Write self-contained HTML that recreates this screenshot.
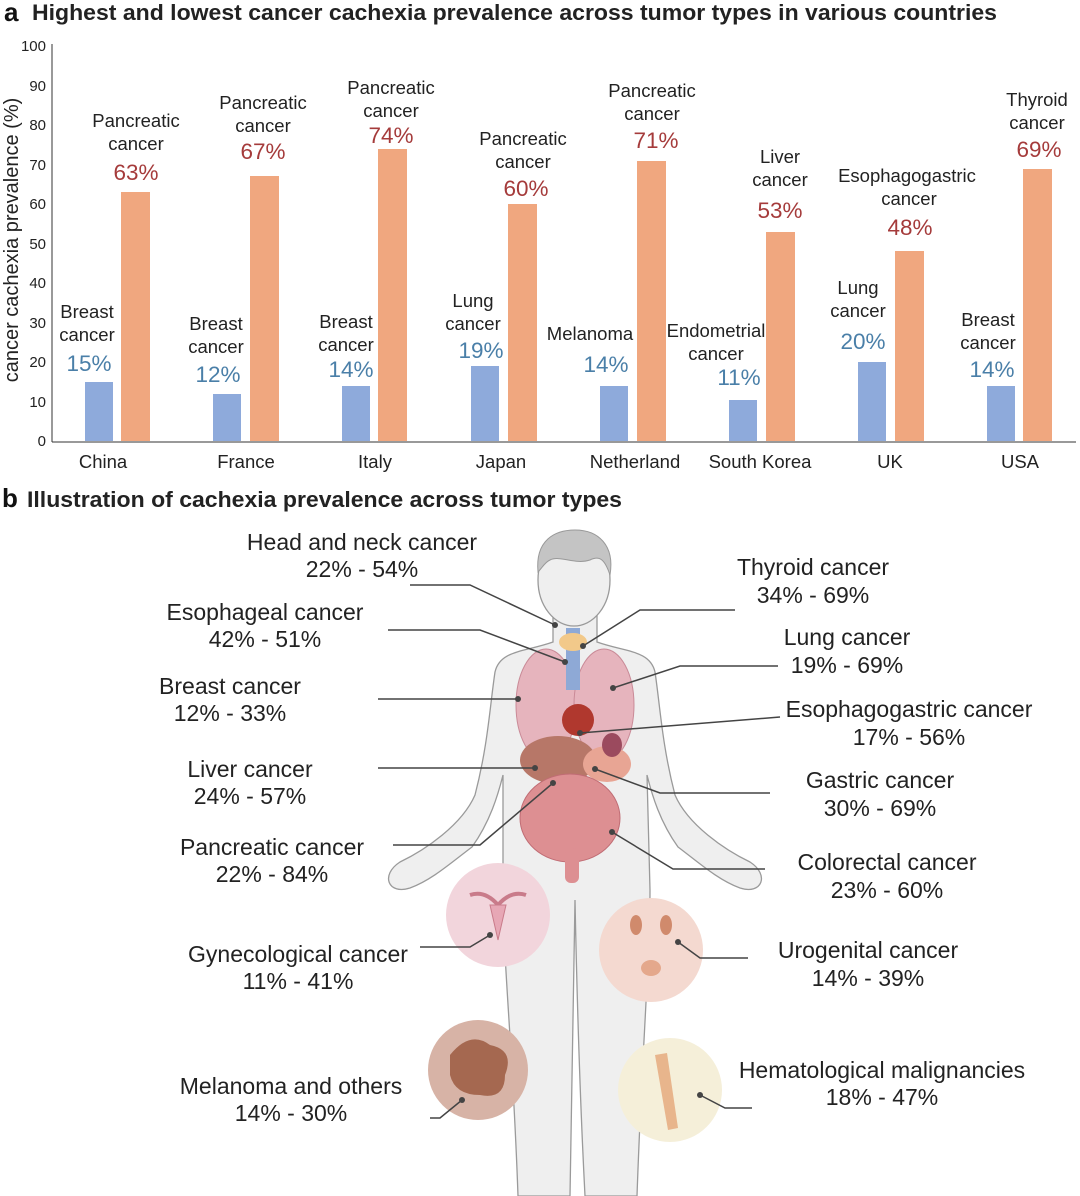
<!DOCTYPE html>
<html><head><meta charset="utf-8"><style>
body{margin:0;background:#fff}
svg{display:block;font-family:"Liberation Sans",sans-serif}
</style></head><body>
<svg width="1080" height="1196" viewBox="0 0 1080 1196">
<rect width="1080" height="1196" fill="#fff"/>
<text x="4" y="21" font-size="26" font-weight="bold" fill="#111">a</text>
<text x="32" y="20" font-size="22.5" font-weight="bold" fill="#222" textLength="965" lengthAdjust="spacingAndGlyphs">Highest and lowest cancer cachexia prevalence across tumor types in various countries</text>
<g stroke="#333" stroke-width="1">
<line x1="52" y1="44" x2="52" y2="442"/>
<line x1="52" y1="442" x2="1076" y2="442"/>
</g>
<g font-size="15" fill="#222" text-anchor="end">
<text x="46" y="446">0</text><text x="46" y="407">10</text><text x="46" y="367">20</text><text x="46" y="328">30</text><text x="46" y="288">40</text><text x="46" y="249">50</text><text x="46" y="209">60</text><text x="46" y="170">70</text><text x="46" y="130">80</text><text x="46" y="91">90</text><text x="46" y="51">100</text>
</g>
<text transform="translate(18,240) rotate(-90)" font-size="20" fill="#222" text-anchor="middle">cancer cachexia prevalence (%)</text>
<g fill="#8eaadb">
<rect x="85" y="382" width="28" height="59"/>
<rect x="213" y="394" width="28" height="47"/>
<rect x="342" y="386" width="28" height="55"/>
<rect x="471" y="366" width="28" height="75"/>
<rect x="600" y="386" width="28" height="55"/>
<rect x="729" y="400" width="28" height="41"/>
<rect x="858" y="362" width="28" height="79"/>
<rect x="987" y="386" width="28" height="55"/>
</g>
<g fill="#f0a77f">
<rect x="121" y="192" width="29" height="249"/>
<rect x="250" y="176" width="29" height="265"/>
<rect x="378" y="149" width="29" height="292"/>
<rect x="508" y="204" width="29" height="237"/>
<rect x="637" y="161" width="29" height="280"/>
<rect x="766" y="232" width="29" height="209"/>
<rect x="895" y="251" width="29" height="190"/>
<rect x="1023" y="169" width="29" height="272"/>
</g>
<g font-size="18.5" fill="#222" text-anchor="middle">
<text x="103" y="468">China</text><text x="246" y="468">France</text><text x="375" y="468">Italy</text><text x="501" y="468">Japan</text><text x="635" y="468">Netherland</text><text x="760" y="468">South Korea</text><text x="890" y="468">UK</text><text x="1020" y="468">USA</text>
</g>
<g font-size="18.5" fill="#222" text-anchor="middle">
<text x="87" y="318">Breast</text><text x="87" y="341">cancer</text>
<text x="136" y="127">Pancreatic</text><text x="136" y="150">cancer</text>
<text x="216" y="330">Breast</text><text x="216" y="353">cancer</text>
<text x="263" y="109">Pancreatic</text><text x="263" y="132">cancer</text>
<text x="346" y="328">Breast</text><text x="346" y="351">cancer</text>
<text x="391" y="94">Pancreatic</text><text x="391" y="117">cancer</text>
<text x="473" y="307">Lung</text><text x="473" y="330">cancer</text>
<text x="523" y="145">Pancreatic</text><text x="523" y="168">cancer</text>
<text x="590" y="340">Melanoma</text>
<text x="652" y="97">Pancreatic</text><text x="652" y="120">cancer</text>
<text x="716" y="337">Endometrial</text><text x="716" y="360">cancer</text>
<text x="780" y="163">Liver</text><text x="780" y="186">cancer</text>
<text x="858" y="294">Lung</text><text x="858" y="317">cancer</text>
<text x="907" y="182">Esophagogastric</text><text x="909" y="205">cancer</text>
<text x="988" y="326">Breast</text><text x="988" y="349">cancer</text>
<text x="1037" y="106">Thyroid</text><text x="1037" y="129">cancer</text>
</g>
<g font-size="22.5" fill="#4a7fa8" text-anchor="middle">
<text x="89" y="371">15%</text><text x="218" y="382">12%</text><text x="351" y="377">14%</text><text x="481" y="358">19%</text><text x="606" y="372">14%</text><text x="739" y="385">11%</text><text x="863" y="349">20%</text><text x="992" y="377">14%</text>
</g>
<g font-size="22.5" fill="#a53b3b" text-anchor="middle">
<text x="136" y="180">63%</text><text x="263" y="159">67%</text><text x="391" y="143">74%</text><text x="526" y="196">60%</text><text x="656" y="148">71%</text><text x="780" y="218">53%</text><text x="910" y="235">48%</text><text x="1039" y="157">69%</text>
</g>

<text x="2" y="507" font-size="26" font-weight="bold" fill="#111">b</text>
<text x="27" y="507" font-size="22.5" font-weight="bold" fill="#222" textLength="595" lengthAdjust="spacingAndGlyphs">Illustration of cachexia prevalence across tumor types</text>

<g fill="#efefef" stroke="#9a9a9a" stroke-width="1.3">
<path d="M553,615 L553,642 C525,652 500,650 495,672 C490,705 488,745 475,795 C462,825 425,850 400,862 C380,875 388,895 410,888 C432,880 452,862 472,847 C490,822 498,795 503,775 L503,890 C503,960 513,1050 518,1196 L570,1196 C572,1100 573,1000 575,900 C577,1000 580,1100 585,1196 L637,1196 C642,1050 650,960 650,890 L647,775 C652,795 660,822 678,847 C698,862 718,880 740,888 C762,895 770,875 750,862 C725,850 688,825 675,795 C662,745 660,705 655,672 C650,650 625,652 597,642 L597,615 Z"/>
<ellipse cx="574" cy="580" rx="36" ry="46"/>
</g>
<path d="M538,572 C535,540 555,530 575,530 C598,530 615,545 610,575 C605,560 600,555 590,560 C575,565 560,555 550,560 C545,562 542,568 538,572 Z" fill="#c4c4c4" stroke="#999" stroke-width="1"/>
<ellipse cx="546" cy="705" rx="30" ry="56" fill="#e6b4bd" stroke="#c98a97"/>
<ellipse cx="604" cy="705" rx="30" ry="56" fill="#e6b4bd" stroke="#c98a97"/>
<rect x="566" y="628" width="14" height="62" fill="#8ea9d6"/>
<ellipse cx="573" cy="642" rx="14" ry="9" fill="#f2c98a"/>
<ellipse cx="578" cy="720" rx="16" ry="16" fill="#b0382e"/>
<ellipse cx="558" cy="760" rx="38" ry="24" fill="#b77768"/>
<ellipse cx="607" cy="764" rx="24" ry="18" fill="#e8a594"/>
<ellipse cx="612" cy="745" rx="10" ry="12" fill="#9b4a5e"/>
<ellipse cx="570" cy="818" rx="50" ry="44" fill="#dd8f92" stroke="#c06c74"/>
<rect x="565" y="848" width="14" height="35" rx="6" fill="#dd8f92"/>
<circle cx="498" cy="915" r="52" fill="#f2d5dc"/>
<path d="M470,895 Q485,890 498,905 Q511,890 526,895" stroke="#c97b8a" stroke-width="4" fill="none"/>
<path d="M490,905 L506,905 L498,940 Z" fill="#e7a7b5" stroke="#c97b8a"/>
<circle cx="651" cy="950" r="52" fill="#f4d9d0"/>
<ellipse cx="636" cy="925" rx="6" ry="10" fill="#d08a6c"/><ellipse cx="666" cy="925" rx="6" ry="10" fill="#d08a6c"/>
<ellipse cx="651" cy="968" rx="10" ry="8" fill="#e4a88c"/>
<circle cx="478" cy="1070" r="50" fill="#d7b3a6"/>
<path d="M450,1055 Q470,1030 490,1045 Q515,1050 505,1075 Q505,1100 480,1095 Q455,1095 450,1075 Z" fill="#a56850"/>
<circle cx="670" cy="1090" r="52" fill="#f5efd9"/>
<path d="M655,1055 L668,1130 L678,1128 L667,1053 Z" fill="#e8b58c"/>
<g stroke="#444" stroke-width="1.5" fill="none">
<path d="M410,585 L470,585 L555,625"/>
<path d="M388,630 L480,630 L565,662"/>
<path d="M378,699 L518,699"/>
<path d="M378,768 L535,768"/>
<path d="M393,845 L480,845 L553,783"/>
<path d="M420,947 L470,947 L490,935"/>
<path d="M430,1118 L440,1118 L462,1100"/>
<path d="M735,610 L640,610 L583,646"/>
<path d="M778,666 L680,666 L613,688"/>
<path d="M780,717 L580,733"/>
<path d="M770,793 L660,793 L595,769"/>
<path d="M765,869 L673,869 L612,832"/>
<path d="M748,958 L700,958 L678,942"/>
<path d="M752,1108 L725,1108 L700,1095"/>
</g>
<g fill="#444">
<circle cx="555" cy="625" r="3"/><circle cx="565" cy="662" r="3"/><circle cx="518" cy="699" r="3"/><circle cx="535" cy="768" r="3"/><circle cx="553" cy="783" r="3"/><circle cx="490" cy="935" r="3"/><circle cx="462" cy="1100" r="3"/><circle cx="583" cy="646" r="3"/><circle cx="613" cy="688" r="3"/><circle cx="580" cy="733" r="3"/><circle cx="595" cy="769" r="3"/><circle cx="612" cy="832" r="3"/><circle cx="678" cy="942" r="3"/><circle cx="700" cy="1095" r="3"/>
</g>
<g font-size="23" fill="#222" text-anchor="middle">
<text x="362" y="550">Head and neck cancer</text><text x="362" y="577">22% - 54%</text>
<text x="265" y="620">Esophageal cancer</text><text x="265" y="647">42% - 51%</text>
<text x="230" y="694">Breast cancer</text><text x="230" y="721">12% - 33%</text>
<text x="250" y="777">Liver cancer</text><text x="250" y="804">24% - 57%</text>
<text x="272" y="855">Pancreatic cancer</text><text x="272" y="882">22% - 84%</text>
<text x="298" y="962">Gynecological cancer</text><text x="298" y="989">11% - 41%</text>
<text x="291" y="1094">Melanoma and others</text><text x="291" y="1121">14% - 30%</text>
<text x="813" y="575">Thyroid cancer</text><text x="813" y="603">34% - 69%</text>
<text x="847" y="645">Lung cancer</text><text x="847" y="673">19% - 69%</text>
<text x="909" y="717">Esophagogastric cancer</text><text x="909" y="745">17% - 56%</text>
<text x="880" y="788">Gastric cancer</text><text x="880" y="816">30% - 69%</text>
<text x="887" y="870">Colorectal cancer</text><text x="887" y="898">23% - 60%</text>
<text x="868" y="958">Urogenital cancer</text><text x="868" y="986">14% - 39%</text>
<text x="882" y="1078">Hematological malignancies</text><text x="882" y="1105">18% - 47%</text>
</g>
</svg>
</body></html>
